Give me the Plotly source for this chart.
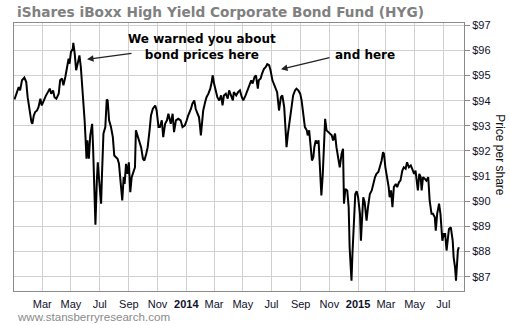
import plotly.graph_objects as go

dates = [
"2013-01-01","2013-01-06","2013-01-10","2013-01-13","2013-01-17","2013-01-22","2013-01-26","2013-01-29",
"2013-02-02","2013-02-06","2013-02-08","2013-02-11","2013-02-14","2013-02-18","2013-02-21","2013-02-25","2013-02-28",
"2013-03-04","2013-03-09","2013-03-13","2013-03-17","2013-03-20","2013-03-24","2013-03-27","2013-03-31",
"2013-04-05","2013-04-08","2013-04-12","2013-04-15","2013-04-19","2013-04-22","2013-04-26","2013-04-28",
"2013-05-01","2013-05-05","2013-05-06","2013-05-09","2013-05-12","2013-05-16","2013-05-19","2013-05-22","2013-05-25","2013-05-28","2013-05-30",
"2013-06-01","2013-06-03","2013-06-05","2013-06-08","2013-06-11","2013-06-13","2013-06-15","2013-06-17","2013-06-19","2013-06-22","2013-06-25","2013-06-27","2013-06-30",
"2013-07-02","2013-07-04","2013-07-06","2013-07-09","2013-07-13","2013-07-16","2013-07-18","2013-07-21","2013-07-25","2013-07-29",
"2013-08-01","2013-08-04","2013-08-08","2013-08-11","2013-08-15","2013-08-18","2013-08-21","2013-08-23","2013-08-26","2013-08-29",
"2013-09-01","2013-09-04","2013-09-07","2013-09-11","2013-09-14","2013-09-16","2013-09-20","2013-09-23","2013-09-27",
"2013-10-01","2013-10-04","2013-10-08","2013-10-11","2013-10-15","2013-10-18","2013-10-22","2013-10-27","2013-10-30",
"2013-11-03","2013-11-06","2013-11-10","2013-11-13","2013-11-17","2013-11-21","2013-11-24","2013-11-29",
"2013-12-03","2013-12-06","2013-12-10","2013-12-15","2013-12-20","2013-12-24","2013-12-29",
"2014-01-02","2014-01-05","2014-01-11","2014-01-14","2014-01-18","2014-01-21","2014-01-25","2014-01-28","2014-01-30",
"2014-02-01","2014-02-04","2014-02-06","2014-02-10","2014-02-13","2014-02-17","2014-02-21","2014-02-24","2014-02-26",
"2014-03-01","2014-03-05","2014-03-08","2014-03-12","2014-03-16","2014-03-19","2014-03-22","2014-03-26","2014-03-30",
"2014-04-02","2014-04-06","2014-04-10","2014-04-12","2014-04-17","2014-04-21","2014-04-25","2014-04-29",
"2014-05-02","2014-05-07","2014-05-11","2014-05-15","2014-05-19","2014-05-22","2014-05-26","2014-05-29",
"2014-06-02","2014-06-04","2014-06-08","2014-06-11","2014-06-15","2014-06-19","2014-06-22","2014-06-26","2014-06-29",
"2014-07-03","2014-07-06","2014-07-10","2014-07-13","2014-07-17","2014-07-21","2014-07-24","2014-07-28","2014-07-31",
"2014-08-02","2014-08-05","2014-08-09","2014-08-13","2014-08-16","2014-08-20","2014-08-23","2014-08-27","2014-08-31",
"2014-09-03","2014-09-07","2014-09-10","2014-09-14","2014-09-16","2014-09-19","2014-09-22","2014-09-25","2014-09-28","2014-09-30",
"2014-10-03","2014-10-06","2014-10-09","2014-10-12","2014-10-15","2014-10-18","2014-10-20","2014-10-23","2014-10-26",
"2014-11-01","2014-11-06","2014-11-09","2014-11-13","2014-11-16","2014-11-20","2014-11-23","2014-11-27","2014-11-30",
"2014-12-02","2014-12-05","2014-12-09","2014-12-12","2014-12-14","2014-12-18","2014-12-20","2014-12-23","2014-12-26","2014-12-29",
"2015-01-01","2015-01-05","2015-01-07","2015-01-10","2015-01-12","2015-01-15","2015-01-19","2015-01-22","2015-01-26","2015-01-30",
"2015-02-02","2015-02-06","2015-02-09","2015-02-13","2015-02-16","2015-02-20","2015-02-23","2015-02-25","2015-02-28",
"2015-03-04","2015-03-07","2015-03-09","2015-03-12","2015-03-15","2015-03-18","2015-03-22","2015-03-25","2015-03-29",
"2015-04-01","2015-04-05","2015-04-08","2015-04-12","2015-04-15","2015-04-19","2015-04-23","2015-04-26","2015-04-30",
"2015-05-03","2015-05-05","2015-05-08","2015-05-11","2015-05-14","2015-05-16","2015-05-19","2015-05-23","2015-05-26","2015-05-30",
"2015-06-02","2015-06-06","2015-06-09","2015-06-13","2015-06-15","2015-06-18","2015-06-22","2015-06-25","2015-06-27","2015-06-29",
"2015-07-02","2015-07-05","2015-07-08","2015-07-11","2015-07-13","2015-07-17","2015-07-21","2015-07-23","2015-07-26","2015-07-28","2015-07-30",
"2015-08-01","2015-08-03",
]

prices = [
94.05,94.34,94.54,94.41,94.81,94.92,94.74,94.14,
93.55,93.15,93.08,93.41,93.55,93.61,93.74,94.08,93.81,
94.01,94.21,94.34,94.48,94.28,94.41,94.14,94.08,
94.28,94.81,94.88,94.61,94.94,95.34,95.67,95.47,
95.94,96.07,96.30,95.87,95.21,95.54,95.80,95.34,94.54,94.14,93.22,
92.49,91.69,92.42,91.69,92.62,92.88,93.08,92.15,90.56,89.07,90.82,91.55,90.82,
90.29,89.90,91.09,92.69,92.95,94.05,94.01,93.22,92.95,92.55,
91.82,91.75,91.69,91.49,90.69,90.03,90.96,90.69,91.49,91.09,
91.55,90.36,90.96,91.22,91.35,92.82,92.55,92.42,92.15,
91.69,91.62,91.89,92.15,92.82,93.41,93.68,93.81,93.61,
92.95,92.95,93.22,92.55,93.08,93.22,93.48,93.08,
93.48,92.75,93.22,93.28,93.22,92.95,93.02,
93.22,93.41,93.68,93.88,94.01,93.68,93.48,93.35,93.02,
92.62,93.22,93.61,93.94,94.14,94.28,94.48,94.74,95.01,
94.68,94.34,94.14,94.01,94.21,93.81,94.21,94.28,94.08,
94.41,94.21,94.01,94.34,94.21,94.34,94.41,94.14,
94.01,94.21,94.41,94.61,94.81,94.68,94.94,95.01,
94.48,94.81,94.88,95.08,95.27,95.34,95.45,95.41,95.21,
94.81,94.68,94.54,94.34,93.61,94.14,94.21,93.75,92.82,
92.15,92.69,93.22,93.75,94.21,94.41,94.48,94.41,94.28,
94.01,93.35,92.95,92.82,92.62,92.82,92.02,91.62,91.75,92.15,
92.42,92.29,92.42,90.96,90.23,91.09,92.15,93.28,92.82,
92.69,92.62,92.42,92.69,92.15,91.75,91.35,91.89,92.09,
89.90,90.49,90.43,89.76,88.17,86.84,87.90,89.50,90.29,90.40,
90.16,89.50,88.43,89.50,90.16,89.96,89.23,89.76,90.29,90.43,
90.69,90.96,91.09,91.16,91.35,91.62,91.95,91.89,91.35,
90.96,90.56,90.16,90.43,89.76,90.56,90.69,90.56,90.76,
90.82,91.22,91.35,91.29,91.55,91.35,91.42,91.29,91.09,
91.22,90.96,90.43,91.09,90.96,90.43,90.96,90.89,90.82,90.96,
90.03,89.50,89.50,89.36,88.83,89.50,89.90,89.50,89.10,88.43,
88.70,88.70,88.04,88.70,88.90,88.96,88.43,87.77,87.37,86.84,87.51,
88.04,88.17,
]

tick_dates = ["2013-03-01","2013-05-01","2013-07-01","2013-09-01","2013-11-01","2014-01-01",
              "2014-03-01","2014-05-01","2014-07-01","2014-09-01","2014-11-01","2015-01-01",
              "2015-03-01","2015-05-01","2015-07-01"]
tick_labels = ["Mar","May","Jul","Sep","Nov","<b>2014</b>","Mar","May","Jul","Sep","Nov",
               "<b>2015</b>","Mar","May","Jul"]
y_ticks = [87,88,89,90,91,92,93,94,95,96,97]

fig = go.Figure()
fig.add_trace(go.Scatter(x=dates, y=prices, mode="lines",
                         line=dict(color="black", width=2), hoverinfo="skip"))

grid = "#d0d0d0"
frame = "#8a8a8a"
tickfont = dict(family="Liberation Sans, Arial", size=11, color="#10102a")

fig.update_layout(
    width=510, height=325,
    margin=dict(l=14, r=46, t=23, b=34),
    paper_bgcolor="white", plot_bgcolor="white",
    showlegend=False,
    xaxis=dict(range=["2012-12-31", "2015-08-14"], tickvals=tick_dates, ticktext=tick_labels,
               showgrid=True, gridcolor=grid, gridwidth=1, showline=True, linecolor=frame,
               linewidth=1, mirror=True, ticks="", tickfont=tickfont, zeroline=False,
               ticklabelstandoff=3),
    yaxis=dict(side="right", range=[86.43, 97.09], tickvals=y_ticks,
               ticktext=["$%d" % v for v in y_ticks], showgrid=True, gridcolor=grid,
               gridwidth=1, showline=True, linecolor=frame, linewidth=1, mirror=True,
               ticks="outside", ticklen=5, tickcolor=frame, tickfont=tickfont, zeroline=False),
)

bold = dict(family="DejaVu Sans", size=12, color="black", weight="bold")
fig.add_annotation(text="iShares iBoxx High Yield Corporate Bond Fund (HYG)", xref="paper",
                   yref="paper", x=(15-14)/450, y=(291-12)/268.3, xanchor="left", yanchor="middle",
                   showarrow=False, font=dict(family="DejaVu Sans", size=13.7, color="#808080", weight="bold"))
fig.add_annotation(text="We warned you about<br>bond prices here", xref="paper", yref="paper",
                   x=(202-14)/450, y=(291-47)/268.3, xanchor="center", yanchor="middle",
                   showarrow=False, font=bold, align="center")
fig.add_annotation(text="and here", xref="paper", yref="paper",
                   x=(365-14)/450, y=(291-55)/268.3, xanchor="center", yanchor="middle",
                   showarrow=False, font=bold)
fig.add_annotation(text="", xref="paper", yref="paper", x=(87-14)/450, y=(291-59)/268.3,
                   ax=46, ay=-6, showarrow=True, arrowhead=2, arrowsize=1, arrowwidth=1.3,
                   arrowcolor="#222")
fig.add_annotation(text="", xref="paper", yref="paper", x=(281-14)/450, y=(291-69)/268.3,
                   ax=50, ay=-12, showarrow=True, arrowhead=2, arrowsize=1, arrowwidth=1.3,
                   arrowcolor="#222")
fig.add_annotation(text="Price per share", xref="paper", yref="paper", x=(500-14)/450,
                   y=(291-155)/268.3, textangle=90, showarrow=False, xanchor="center",
                   yanchor="middle", font=dict(family="Liberation Sans, Arial", size=12, color="#111"))
fig.add_annotation(text="www.stansberryresearch.com", xref="paper", yref="paper", x=(15-14)/450,
                   y=(291-317)/268.3, xanchor="left", yanchor="middle", showarrow=False,
                   font=dict(family="Liberation Sans, Arial", size=11.6, color="#8a8a8a"))

fig.write_html("out.html")
